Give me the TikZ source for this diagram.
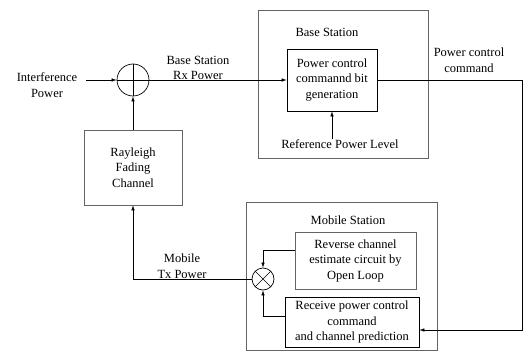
\documentclass[tikz,border=0pt]{standalone}
\usepackage{fontspec}
\setmainfont{Liberation Serif}
\usepackage{tikz}
\usetikzlibrary{arrows.meta, positioning, calc}
\definecolor{FrameGray}{RGB}{100,100,100}

\begin{document}
\begin{tikzpicture}[x=1pt, y=-1pt, font=\fontsize{12.5}{15.5}\selectfont,
	>={Latex[length=5pt,width=3.5pt]},
	conn/.style={line width=0.6pt, ->},
	wire/.style={line width=0.6pt},
	frame/.style={draw=FrameGray, line width=0.6pt, inner sep=0pt},
	block/.style={draw, line width=0.7pt, align=center, inner sep=1pt},
	lightblock/.style={draw=FrameGray, line width=0.6pt, align=center, inner sep=1pt},
	junction/.style={circle, draw, line width=0.7pt, inner sep=0pt},
	txt/.style={align=center, inner sep=0pt}]
	\useasboundingbox (0,0) rectangle (530,353);
	% base station side
	\node[frame, minimum width=170, minimum height=148] (bsframe) at (343,84) {};
	\node[txt] (bstitle) at (327,32) {Base Station};
	\node[block, minimum width=90, minimum height=62] (pcgen) at (332,80)
		{Power control\\commannd bit\\generation};
	\node[txt] (refp) at (340,144) {Reference Power Level};
	% mobile station side
	\node[frame, minimum width=191, minimum height=148] (msframe) at (341.5,276) {};
	\node[txt] (mstitle) at (348,220) {Mobile Station};
	\node[lightblock, minimum width=121, minimum height=57] (rev) at (355.5,260.5)
		{Reverse channel\\estimate circuit by\\Open Loop};
	\node[block, minimum width=134, minimum height=50] (recv) at (352,322)
		{Receive power control\\command\\and channel prediction};
	\node[junction, minimum size=22] (mul) at (263,279) {};
	\draw[wire] (mul.north west) -- (mul.south east) (mul.north east) -- (mul.south west);
	% channel
	\node[junction, minimum size=32] (sum) at (133,80) {};
	\draw[wire] (sum.north) -- (sum.south) (sum.west) -- (sum.east);
	\node[lightblock, minimum width=98, minimum height=75] (ray) at (133,167.5)
		{Rayleigh\\Fading\\Channel};
	\node[txt] (intf) at (47,85) {Interference\\Power};
	\coordinate (intfout) at (86,80);
	% labels on the links
	\node[txt] (rxlbl) at (198,68) {Base Station\\Rx Power};
	\node[txt] (txlbl) at (182,266) {Mobile\\Tx Power};
	\node[txt] (pclbl) at (469,60) {Power control\\command};
	\coordinate (pcright) at (522,80);
	\coordinate (pcdown) at (522,330);
	% connectors
	\draw[conn] (intfout) -- (sum.west);
	\draw[conn] (sum.east) -- (pcgen.west);
	\draw[conn] (refp.north -| pcgen.south) -- (pcgen.south);
	\draw[conn] (pcgen.east) -- (pcright) -- (pcdown) -- (recv.east |- pcdown);
	\draw[conn] (ray.north) -- (sum.south);
	\draw[conn] (mul.west) -| (ray.south);
	\draw[conn] ($(rev.west)+(0,-10.5)$) -| (mul.north);
	\draw[conn] ($(recv.west)+(0,-6)$) -| (mul.south);
\end{tikzpicture}
\end{document}
